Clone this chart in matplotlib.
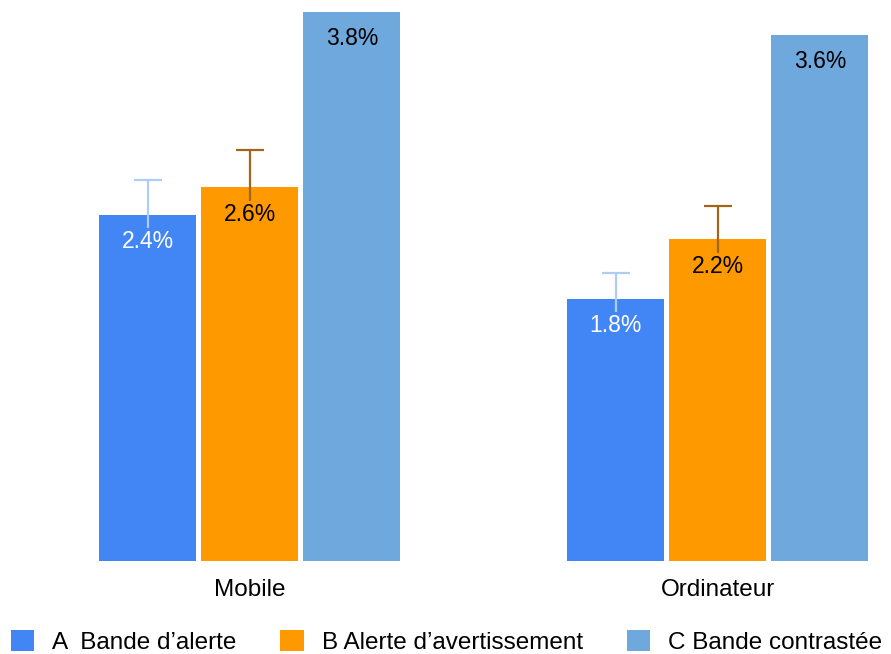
import numpy as np
import matplotlib
matplotlib.use("Agg")
import matplotlib.pyplot as plt

plt.rcParams['font.family'] = ['Liberation Sans', 'DejaVu Sans']

categories = ['Mobile', 'Ordinateur']
series = ['A  Bande d’alerte', 'B Alerte d’avertissement', 'C Bande contrastée']
values = [[2.40, 1.82],   # A
          [2.59, 2.23],   # B
          [3.81, 3.65]]   # C
errors = [[0.24, 0.18],
          [0.26, 0.23],
          None]
labels = [['2.4%', '1.8%'], ['2.6%', '2.2%'], ['3.8%', '3.6%']]

colors = ['#4285f4', '#ff9900', '#6fa8dc']
err_colors = ['#aecbfa', '#a0661a', None]
label_colors = ['white', 'black', 'black']

fig = plt.figure(figsize=(8.91, 6.54), dpi=100)
ax = fig.add_axes([0, 0.1422, 1, 0.8578])

x = np.arange(len(categories))
width = 0.207
step = 0.218

for i in range(3):
    pos = x + (i - 1) * step
    ax.bar(pos, values[i], width, color=colors[i], label=series[i], zorder=2)
    if errors[i] is not None:
        ax.errorbar(pos, values[i], yerr=errors[i], fmt='none', ecolor=err_colors[i],
                    elinewidth=1.6, capsize=10, capthick=1.6, zorder=3)
    for p, v, t in zip(pos, values[i], labels[i]):
        ax.text(p, v - 0.185, t, ha='center', va='center', fontsize=16.5,
                color=label_colors[i], zorder=4,
                bbox=dict(facecolor=colors[i], edgecolor='none', pad=1.5))

ax.set_xlim(-0.534, 1.370)
ax.set_ylim(0, 3.89)
ax.set_yticks([])
ax.set_xticks(x)
ax.set_xticklabels(categories, fontsize=17.5)
ax.tick_params(axis='x', length=0, pad=13)
for s in ax.spines.values():
    s.set_visible(False)

fig.legend(loc='lower left', bbox_to_anchor=(-0.004, -0.022), ncol=3, frameon=False,
           fontsize=17.5, handlelength=0.95, handleheight=0.95, handletextpad=0.75,
           columnspacing=1.8, borderaxespad=0.2)

fig.savefig('out.png', dpi=100)
